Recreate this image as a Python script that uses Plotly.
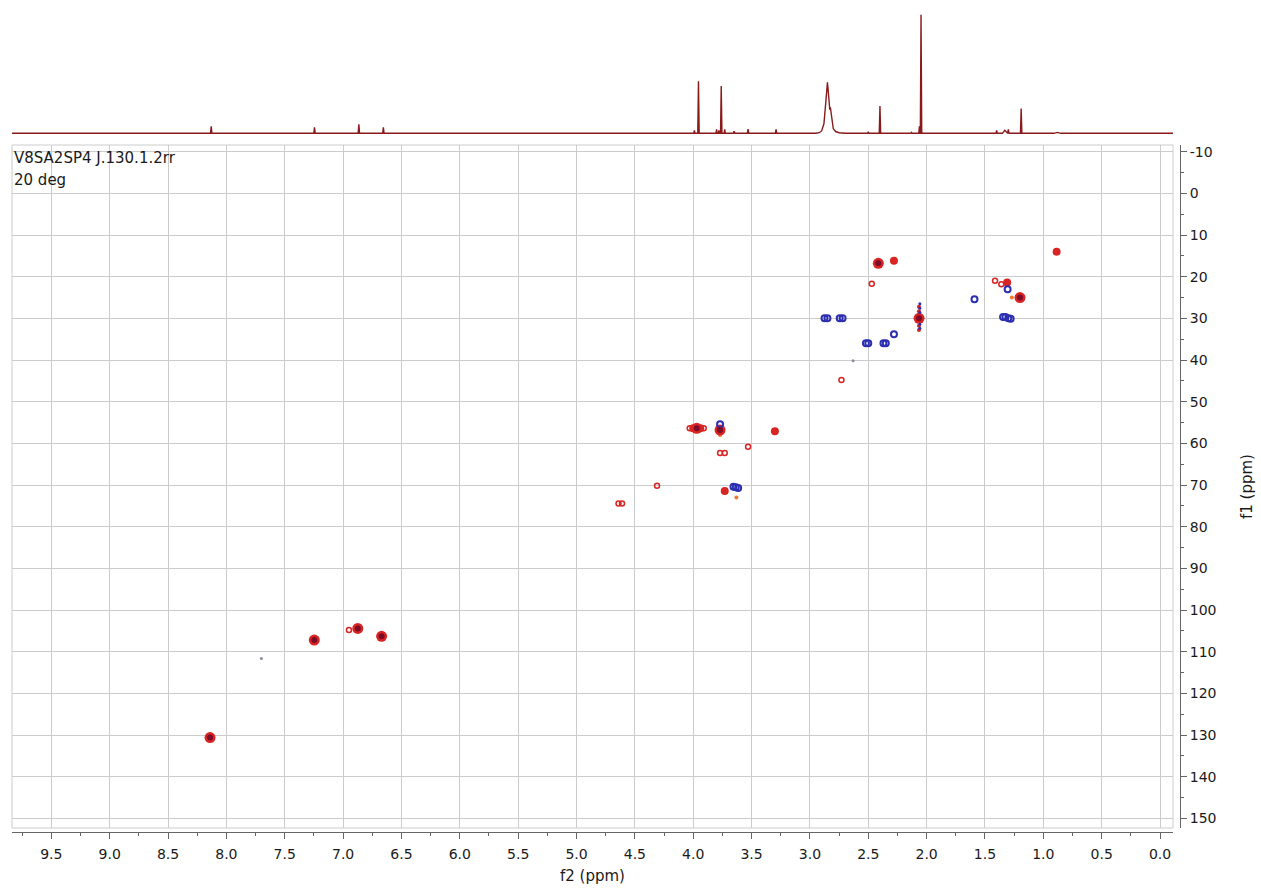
import plotly.graph_objects as go

# ---------------- 1D proton projection (f2) ----------------
# sharp lines: centre (ppm), relative intensity (tallest = 100), half base width (ppm)
h1_ppm = [8.13, 7.245, 6.865, 6.655, 3.99, 3.955, 3.80, 3.78, 3.76, 3.73, 3.65, 3.53,
          3.29, 2.50, 2.40, 2.13, 2.062, 2.048, 1.40, 1.33, 1.30, 1.19, 0.88]
h1_int = [5.9, 5.1, 7.6, 5.1, 2.5, 44, 3.4, 2.5, 40, 3.4, 1.7, 3.6,
          3.4, 1.3, 23, 0.8, 6, 100, 2.5, 2.5, 3.4, 21, 0.8]
h1_hw = [0.006, 0.006, 0.006, 0.006, 0.005, 0.006, 0.005, 0.005, 0.006, 0.005, 0.006, 0.006,
         0.006, 0.006, 0.006, 0.006, 0.005, 0.006, 0.006, 0.02, 0.006, 0.006, 0.03]
# broad exchangeable multiplet around 2.85 ppm
broad_ppm = [2.95, 2.92, 2.90, 2.88, 2.865, 2.855, 2.85, 2.845, 2.838, 2.83, 2.825,
             2.82, 2.81, 2.80, 2.78, 2.75, 2.70]
broad_int = [0, 0.5, 2, 8, 25, 40, 43, 38, 26, 20, 22, 18, 9, 4, 1.5, 0.5, 0]

# ---------------- 2D HSQC cross peaks (f2, f1) ----------------
# positive (CH / CH3) contours, level 1 = weak, 2 = medium, 3 = strong
pos_ppm = [8.14, 7.247, 6.874, 6.95, 6.67, 4.64, 4.61, 4.31, 4.03, 4.00, 3.97, 3.94, 3.91,
           3.77, 3.30, 3.53, 3.77, 3.73, 3.73, 2.73, 2.47, 2.414, 2.28, 2.065, 1.414,
           1.36, 1.31, 1.20, 0.886]
pos_f1 = [130.6, 107.2, 104.4, 104.8, 106.3, 74.4, 74.4, 70.2, 56.4, 56.4, 56.4, 56.4, 56.4,
          56.8, 57.1, 60.8, 62.3, 62.3, 71.4, 44.8, 21.7, 16.8, 16.2, 30.0, 21.0,
          21.8, 21.4, 25.0, 14.0]
pos_lvl = [3, 3, 3, 1, 3, 1, 1, 1, 1, 2, 3, 2, 1,
           3, 2, 1, 1, 1, 2, 1, 1, 3, 2, 3, 1,
           1, 2, 3, 2]
# lowest-level (orange) contours
low_ppm = [3.63, 1.27, 3.77]
low_f1 = [73.0, 25.0, 58.0]
# t1 streak of the solvent cross peak
streak_pos_ppm = [2.066, 2.066, 2.066, 2.066]
streak_pos_f1 = [27.2, 28.3, 31.8, 32.8]
streak_neg_ppm = [2.058, 2.058, 2.058, 2.058, 2.058]
streak_neg_f1 = [26.5, 27.6, 28.6, 31.4, 32.4]
# negative (CH2) contours
neg_ppm = [2.875, 2.85, 2.745, 2.72, 2.52, 2.50, 2.37, 2.35, 2.28, 1.59, 1.306,
           1.345, 1.325, 1.30, 1.28, 3.655, 3.635, 3.615, 3.77]
neg_f1 = [30.0, 30.0, 30.0, 30.0, 36.0, 36.0, 36.0, 36.0, 33.8, 25.4, 23.0,
          29.7, 29.7, 30.0, 30.1, 70.4, 70.5, 70.7, 55.4]
# faint isolated points
faint_ppm = [7.70, 2.63]
faint_f1 = [111.6, 40.2]

# axis ticks
f2_ticks = [9.5, 9.0, 8.5, 8.0, 7.5, 7.0, 6.5, 6.0, 5.5, 5.0, 4.5, 4.0, 3.5, 3.0, 2.5,
            2.0, 1.5, 1.0, 0.5, 0.0]
f1_ticks = [-10, 0, 10, 20, 30, 40, 50, 60, 70, 80, 90, 100, 110, 120, 130, 140, 150]

title_lines = ["V8SA2SP4 J.130.1.2rr", "20 deg"]

# ---------------- styling ----------------
W, H = 1261, 888
FONT = "DejaVu Sans"
RED = "#d92424"
DARK = "#7d0a26"
BLUE = "#2b2fb0"
ORANGE = "#f07a2a"
SPEC = "#8a1a1a"
GRID = "#cccccc"
AXIS = "#666666"

X_RANGE = [9.837, -0.111]
Y_RANGE = [152.3, -11.6]
X_DOM = [12 / W, 1173 / W]
Y_DOM = [1 - 828 / H, 1 - 145 / H]

# build the 1D trace: baseline joined through every line
segs = []
for p, h, w in zip(h1_ppm, h1_int, h1_hw):
    segs.append(([p + w, p, p - w], [0, h, 0]))
segs.append((broad_ppm, broad_int))
segs.sort(key=lambda s: -s[0][0])
sx, sy = [X_RANGE[0]], [0]
for xs, ys in segs:
    sx += list(xs)
    sy += list(ys)
sx.append(X_RANGE[1])
sy.append(0)

fig = go.Figure()

fig.add_trace(go.Scatter(x=sx, y=sy, mode="lines", xaxis="x3", yaxis="y3",
                         line=dict(color=SPEC, width=1.4), hoverinfo="skip"))


def pick(lvl):
    xs = [p for p, l in zip(pos_ppm, pos_lvl) if l == lvl]
    ys = [f for f, l in zip(pos_f1, pos_lvl) if l == lvl]
    return xs, ys


def dots(x, y, size, color, symbol="circle", lw=0):
    fig.add_trace(go.Scatter(
        x=x, y=y, mode="markers", xaxis="x", yaxis="y", hoverinfo="skip",
        marker=dict(size=size, color=color, symbol=symbol,
                    line=dict(width=lw, color=color))))


dots(faint_ppm, faint_f1, 3, "#8a8aa0")
dots(low_ppm, low_f1, 4, ORANGE)
x1, y1 = pick(1)
dots(x1, y1, 5, RED, "circle-open", 1.5)
x2, y2 = pick(2)
dots(x2, y2, 8, RED)
x3, y3 = pick(3)
dots(x3, y3, 11, RED)
dots(streak_pos_ppm, streak_pos_f1, 4, RED)
dots(neg_ppm, neg_f1, 6, BLUE, "circle-open", 2)
dots(streak_neg_ppm, streak_neg_f1, 3, BLUE)
dots(x3, y3, 6, DARK)

tickfont = dict(family=FONT, size=14, color="#1a1a1a")

fig.update_layout(
    width=W, height=H,
    margin=dict(l=0, r=0, t=0, b=0),
    paper_bgcolor="white", plot_bgcolor="white",
    showlegend=False,
    xaxis=dict(domain=X_DOM, range=X_RANGE, anchor="free", position=1 - 832 / H,
               tickmode="array", tickvals=f2_ticks, ticktext=[f"{v:.1f}" for v in f2_ticks],
               ticks="outside", ticklen=6, tickcolor=AXIS, tickwidth=1,
               ticklabelstandoff=3,
               minor=dict(tickmode="linear", tick0=0, dtick=0.25, ticks="outside",
                          ticklen=3, tickcolor=AXIS, showgrid=False),
               showline=True, linecolor=AXIS, linewidth=1,
               showgrid=True, gridcolor=GRID, gridwidth=1, zeroline=False,
               tickfont=tickfont),
    yaxis=dict(domain=Y_DOM, range=Y_RANGE, anchor="free", position=1180 / W, side="right",
               tickmode="array", tickvals=f1_ticks, ticktext=[str(v) for v in f1_ticks],
               ticks="outside", ticklen=6, tickcolor=AXIS, tickwidth=1,
               minor=dict(tickmode="linear", tick0=0, dtick=5, ticks="outside",
                          ticklen=3, tickcolor=AXIS, showgrid=False),
               showline=True, linecolor=AXIS, linewidth=1,
               showgrid=True, gridcolor=GRID, gridwidth=1, zeroline=False,
               tickfont=tickfont),
    xaxis3=dict(domain=X_DOM, range=X_RANGE, anchor="y3", visible=False),
    yaxis3=dict(domain=[1 - 140 / H, 1], range=[-5.65, 112.5], anchor="x3", visible=False),
    shapes=[dict(type="rect", xref="x domain", yref="y domain", x0=0, x1=1, y0=0, y1=1,
                 line=dict(color=GRID, width=1), layer="below")],
    annotations=[
        dict(text=title_lines[0], xref="paper", yref="paper", x=12 / W, y=1 - 158 / H,
             xanchor="left", yanchor="middle", showarrow=False,
             font=dict(family=FONT, size=15, color="#1a1a1a")),
        dict(text=title_lines[1], xref="paper", yref="paper", x=12 / W, y=1 - 180 / H,
             xanchor="left", yanchor="middle", showarrow=False,
             font=dict(family=FONT, size=15, color="#1a1a1a")),
        dict(text="f2 (ppm)", xref="paper", yref="paper", x=592 / W, y=1 - 876 / H,
             xanchor="center", yanchor="middle", showarrow=False,
             font=dict(family=FONT, size=15, color="#1a1a1a")),
        dict(text="f1 (ppm)", xref="paper", yref="paper", x=1247 / W, y=1 - 487 / H,
             xanchor="center", yanchor="middle", showarrow=False, textangle=-90,
             font=dict(family=FONT, size=15, color="#1a1a1a")),
    ],
)

fig.write_html("out.html")
